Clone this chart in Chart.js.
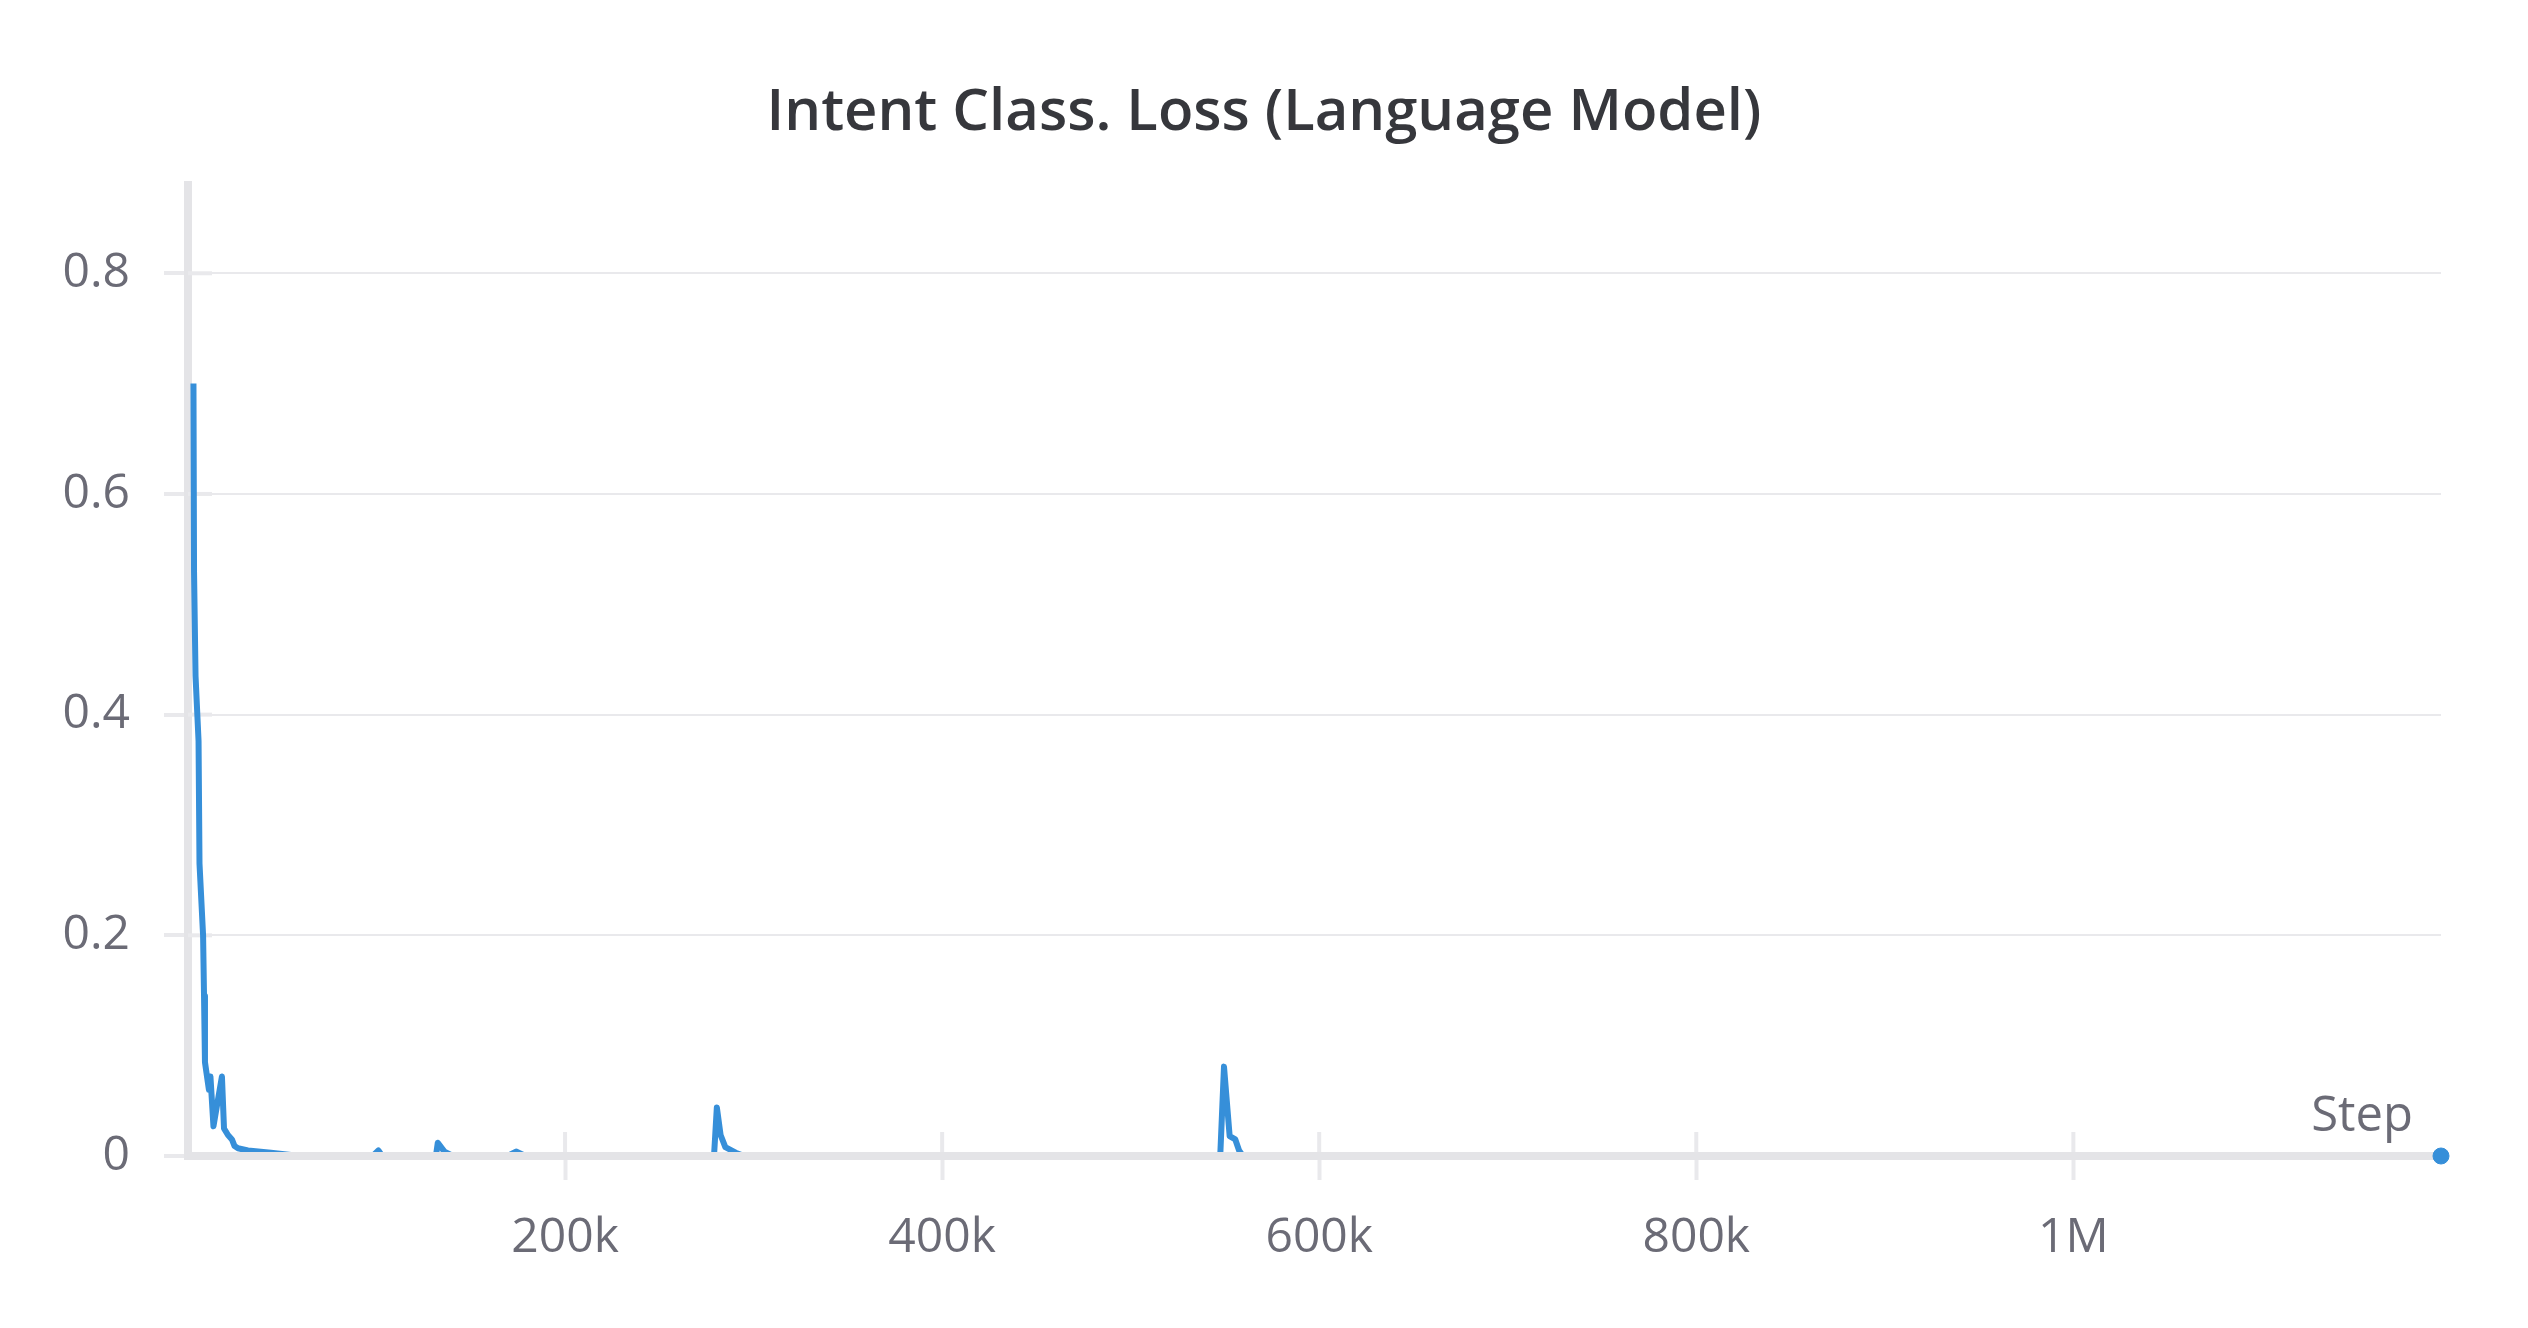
<!DOCTYPE html>
<html>
<head>
<meta charset="utf-8">
<title>Intent Class. Loss (Language Model)</title>
<script src="https://cdn.jsdelivr.net/npm/chart.js@4.4.1/dist/chart.umd.min.js"></script>
<style>
  html, body { margin: 0; padding: 0; background: #ffffff; }
  canvas { display: block; }
</style>
</head>
<body>
<canvas id="loss-chart" width="2528" height="1328"></canvas>
<script>
// Data (training step vs. loss)
const steps = [
  2900, 3200, 4000, 5600, 6100, 8000, 8500, 9000, 11100, 11900,
  13500, 18000, 19100, 21200, 23300, 24700, 26500, 31800, 44000, 54600,
  60000, 98000, 101000, 103000, 131500, 132500, 136000, 140500, 169500, 174000,
  179000, 279000, 280500, 282500, 285000, 290500, 295000, 547500, 549500, 552500,
  555500, 557500, 559500, 1195000
];
const lossValues = [
  0.70, 0.53, 0.435, 0.376, 0.265, 0.20, 0.145, 0.085, 0.06, 0.072,
  0.027, 0.072, 0.025, 0.019, 0.015, 0.009, 0.007, 0.005, 0.003, 0.001,
  0, 0, 0.005, 0, 0, 0.012, 0.004, 0, 0, 0.004,
  0, 0, 0.044, 0.019, 0.008, 0.003, 0, 0, 0.081, 0.018,
  0.015, 0.005, 0, 0
];
const yTicks = [0, 0.2, 0.4, 0.6, 0.8];
const xTicks = [200000, 400000, 600000, 800000, 1000000];

const chartTitle = "Intent Class. Loss (Language Model)";
const lineColor = "#368fd9";
const axisColor = "#e4e4e7";
const gridColor = "#e9e9ec";
const textColor = "#6b6b76";

// small decorations: title, tick marks inside the plot, x-axis over the line, "Step" label
const axisDecor = {
  id: "axisDecor",
  beforeDatasetsDraw(chart) {
    const { ctx, chartArea, scales } = chart;
    ctx.save();
    ctx.strokeStyle = gridColor;
    ctx.lineWidth = 4;
    yTicks.forEach((v) => {
      const py = scales.y.getPixelForValue(v);
      ctx.beginPath();
      ctx.moveTo(chartArea.left, py);
      ctx.lineTo(chartArea.left + 24, py);
      ctx.stroke();
    });
    xTicks.forEach((v) => {
      const px = scales.x.getPixelForValue(v);
      ctx.beginPath();
      ctx.moveTo(px, chartArea.bottom - 24);
      ctx.lineTo(px, chartArea.bottom);
      ctx.stroke();
    });
    ctx.restore();
  },
  afterDatasetDraw(chart, args) {
    // the loss line sits under the x-axis, the end dot above it
    if (args.index === 1) {
      chart.scales.x.drawBorder();
    }
  },
  afterDraw(chart) {
    const { ctx, chartArea, width } = chart;
    ctx.save();
    // title centred on the whole canvas
    ctx.font = "600 58px 'Open Sans'";
    ctx.fillStyle = "#36373c";
    ctx.textAlign = "center";
    ctx.textBaseline = "middle";
    ctx.fillText(chartTitle, width / 2, 113);
    // axis name in the lower right corner
    ctx.font = "49px 'Open Sans'";
    ctx.fillStyle = textColor;
    ctx.textAlign = "right";
    ctx.fillText("Step", chartArea.right - 28, chartArea.bottom - 39);
    ctx.restore();
  },
};

document.addEventListener("DOMContentLoaded", function () {
  Chart.defaults.font.family = "'Open Sans', sans-serif";

  const points = steps.map((s, i) => ({ x: s, y: lossValues[i] }));
  const lastPoint = points[points.length - 1];

  const ctx = document.getElementById("loss-chart").getContext("2d");
  const lossChart = new Chart(ctx, {
    type: "line",
    data: {
      datasets: [
        {
          label: "last",
          data: [lastPoint],
          showLine: false,
          pointRadius: 8,
          pointBorderWidth: 1,
          pointBackgroundColor: lineColor,
          pointBorderColor: lineColor,
          clip: false,
        },
        {
          label: "Intent Class. Loss",
          data: points,
          borderColor: lineColor,
          borderWidth: 6,
          pointRadius: 0,
          tension: 0,
          fill: false,
          borderJoinStyle: "round",
        },
      ],
    },
    options: {
      responsive: false,
      animation: false,
      layout: {
        padding: { left: 0, right: 87, top: 185, bottom: 0 },
      },
      scales: {
        x: {
          type: "linear",
          min: 0,
          max: 1195000,
          afterFit: (s) => { s.height = 172; },
          afterBuildTicks: (s) => { s.ticks = xTicks.map((v) => ({ value: v })); },
          ticks: {
            padding: 30,
            maxRotation: 0,
            autoSkip: false,
            color: textColor,
            font: { size: 48 },
            callback: (v) => (v >= 1000000 ? v / 1000000 + "M" : v / 1000 + "k"),
          },
          grid: {
            drawOnChartArea: false,
            tickLength: 24,
            tickWidth: 4,
            color: gridColor,
          },
          border: {
            display: true,
            color: axisColor,
            width: 8,
          },
        },
        y: {
          min: 0,
          max: 0.88,
          afterFit: (s) => { s.width = 188; },
          afterBuildTicks: (s) => { s.ticks = yTicks.map((v) => ({ value: v })); },
          ticks: {
            padding: 34,
            color: textColor,
            font: { size: 48 },
            callback: (v) => String(+v.toFixed(1)),
          },
          grid: {
            lineWidth: 2,
            tickLength: 24,
            tickWidth: 4,
            color: gridColor,
          },
          border: {
            display: true,
            color: axisColor,
            width: 8,
          },
        },
      },
      plugins: {
        legend: { display: false },
        tooltip: { enabled: false },
        title: { display: false },
      },
    },
    plugins: [axisDecor],
  });
});
</script>
</body>
</html>
